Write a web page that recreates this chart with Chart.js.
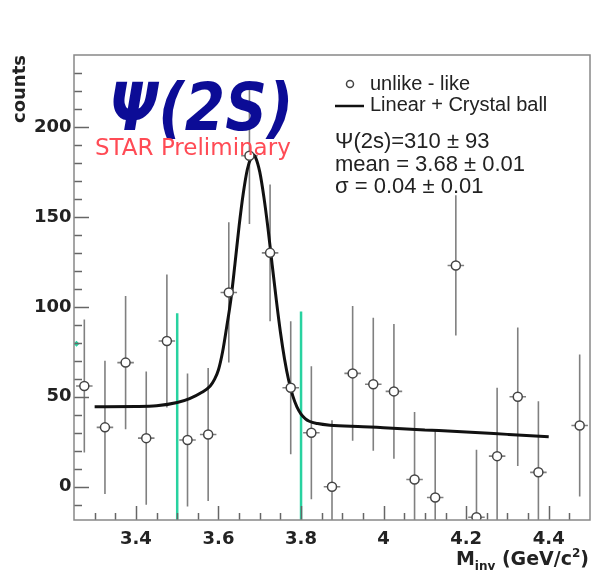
<!DOCTYPE html>
<html>
<head>
<meta charset="utf-8">
<script src="https://cdn.jsdelivr.net/npm/chart.js@4.4.0/dist/chart.umd.min.js"></script>
<style>
  body { margin: 0; background: #fff; }
  canvas { display: block; }
</style>
</head>
<body>
<canvas id="myDiagram" width="592" height="572"></canvas>
<script>
// bin centres and counts (unlike - like)
const binX = [3.275, 3.325, 3.375, 3.425, 3.475, 3.525, 3.575, 3.625, 3.675, 3.725, 3.775, 3.825,
              3.875, 3.925, 3.975, 4.025, 4.075, 4.125, 4.175, 4.225, 4.275, 4.325, 4.375, 4.475];
const counts = [56, 33, 69, 27, 81, 26, 29, 108, 184, 130, 55, 30,
                0, 63, 57, 53, 4, -6, 123, -17, 17, 50, 8, 34];
const errors = [37, 37, 37, 37, 37, 37, 37, 39, 38, 38, 37, 37,
                37, 37.5, 37, 37.5, 37.5, 37.5, 39, 37.5, 38, 38.5, 39.5, 39.5];
const binHalf = 0.02;

// Linear + Crystal ball fit, sampled from the drawn curve
const fitX = [3.30, 3.40, 3.45, 3.50, 3.53, 3.56, 3.58, 3.59, 3.60, 3.61, 3.62, 3.63, 3.64, 3.65,
              3.66, 3.67, 3.68, 3.684, 3.69, 3.70, 3.71, 3.72, 3.73, 3.74, 3.75, 3.76, 3.77, 3.78,
              3.79, 3.80, 3.81, 3.82, 3.84, 3.87, 3.95, 4.0, 4.1, 4.2, 4.3, 4.4];
const fitY = [44.5, 44.6, 45.0, 46.8, 49.0, 52.5, 56, 59.5, 65, 75, 89, 104, 124, 145,
              163, 176.5, 183.5, 184.6, 183, 175, 161, 143.5, 123.5, 104, 86, 71, 59.2, 50.5,
              44.4, 40.4, 37.9, 36.4, 35.1, 34.2, 33.4, 32.8, 31.6, 30.4, 29.1, 27.8];

// signal window lines
const windowX = [3.5, 3.8];
const windowTop = [96.5, 97.4];

// axis ticks
const xTickValues = [3.4, 3.6, 3.8, 4, 4.2, 4.4];
const yTickValues = [0, 50, 100, 150, 200];
const xRange = [3.25, 4.5];
const yRange = [-18.5, 240];

const green = 'rgb(40,210,160)';

const pts = binX.map((x, i) => ({ x: x, y: counts[i] }));
const fit = fitX.map((x, i) => ({ x: x, y: fitY[i] }));

const windowSets = windowX.map((x, i) => ({
  type: 'line',
  data: [{ x: x, y: windowTop[i] }, { x: x, y: yRange[0] }],
  borderColor: green,
  borderWidth: 2.5,
  pointRadius: 0,
  order: 3
}));

// error bars + inner ticks + frame
const rootAxes = {
  id: 'rootAxes',
  beforeDatasetsDraw(chart) {
    const { ctx, chartArea: a, scales: { x, y } } = chart;
    ctx.save();
    ctx.beginPath();
    ctx.rect(a.left, a.top, a.right - a.left, a.bottom - a.top);
    ctx.clip();
    ctx.strokeStyle = '#808080';
    ctx.lineWidth = 1.6;
    binX.forEach((bx, i) => {
      const px = x.getPixelForValue(bx);
      const py = y.getPixelForValue(counts[i]);
      ctx.beginPath();
      ctx.moveTo(px, y.getPixelForValue(counts[i] + errors[i]));
      ctx.lineTo(px, y.getPixelForValue(counts[i] - errors[i]));
      ctx.moveTo(x.getPixelForValue(bx - binHalf), py);
      ctx.lineTo(x.getPixelForValue(bx + binHalf), py);
      ctx.stroke();
    });
    ctx.restore();
  },
  afterDraw(chart) {
    const { ctx, chartArea: a, scales: { x, y } } = chart;
    ctx.save();
    ctx.strokeStyle = '#666';
    ctx.lineWidth = 1.5;
    // y ticks
    for (let v = -10; v <= 230; v += 10) {
      const py = Math.round(y.getPixelForValue(v)) + 0.5;
      const len = v % 50 === 0 ? 15 : 8;
      ctx.beginPath();
      ctx.moveTo(a.left, py);
      ctx.lineTo(a.left + len, py);
      ctx.stroke();
    }
    // x ticks
    for (let k = 1; k < 25; k++) {
      const v = 3.25 + k * 0.05;
      const px = Math.round(x.getPixelForValue(v)) + 0.5;
      const major = k % 4 === 3;
      ctx.beginPath();
      ctx.moveTo(px, a.bottom);
      ctx.lineTo(px, a.bottom - (major ? 14 : 7));
      ctx.stroke();
    }
    ctx.strokeStyle = '#888';
    ctx.strokeRect(a.left, a.top, a.right - a.left, a.bottom - a.top);

    // big labels
    ctx.save();
    ctx.translate(109, 130);
    ctx.scale(1, 1.12);
    ctx.fillStyle = 'rgb(12,12,150)';
    ctx.font = 'italic bold 58px "DejaVu Sans"';
    ctx.textBaseline = 'alphabetic';
    ctx.textAlign = 'left';
    ctx.fillText('Ψ(2S)', 0, 0);
    ctx.restore();
    ctx.fillStyle = 'rgb(255,75,85)';
    ctx.font = '23px "DejaVu Sans"';
    ctx.textBaseline = 'alphabetic';
    ctx.fillText('STAR Preliminary', 95, 155);

    // legend
    ctx.fillStyle = '#222';
    ctx.font = '20px "Liberation Sans"';
    ctx.textBaseline = 'middle';
    ctx.fillText('unlike - like', 370, 84);
    ctx.fillText('Linear + Crystal ball', 370, 105);
    ctx.strokeStyle = '#444';
    ctx.lineWidth = 1.5;
    ctx.beginPath();
    ctx.arc(350, 84, 3.5, 0, Math.PI * 2);
    ctx.stroke();
    ctx.strokeStyle = '#111';
    ctx.lineWidth = 2.5;
    ctx.beginPath();
    ctx.moveTo(335, 106);
    ctx.lineTo(364, 106);
    ctx.stroke();

    // fit results
    ctx.font = '22px "Liberation Sans"';
    ctx.fillText('Ψ(2s)=310 ± 93', 335, 142);
    ctx.fillText('mean = 3.68 ± 0.01', 335, 165);
    ctx.fillText('σ = 0.04 ± 0.01', 335, 187);

    // y title
    ctx.save();
    ctx.translate(20, 55);
    ctx.rotate(-Math.PI / 2);
    ctx.font = 'bold 18px "DejaVu Sans"';
    ctx.textAlign = 'right';
    ctx.fillStyle = '#222';
    ctx.fillText('counts', 0, 0);
    ctx.restore();

    // x title with sub/superscript
    const big = 'bold 19px "DejaVu Sans"', small = 'bold 12px "DejaVu Sans"';
    const parts = [['M', big, 0], ['inv', small, 5], [' (GeV/c', big, 0], ['2', small, -8], [')', big, 0]];
    let total = 0;
    parts.forEach(p => { ctx.font = p[1]; total += ctx.measureText(p[0]).width; });
    let cx = 589 - total;
    ctx.textBaseline = 'alphabetic';
    ctx.textAlign = 'left';
    ctx.fillStyle = '#222';
    parts.forEach(p => {
      ctx.font = p[1];
      ctx.fillText(p[0], cx, 565 + p[2]);
      cx += ctx.measureText(p[0]).width;
    });
    ctx.restore();
  }
};

const ctx = document.getElementById('myDiagram').getContext('2d');
const myChart = new Chart(ctx, {
  data: {
    datasets: [
      {
        type: 'scatter',
        data: pts,
        pointStyle: 'circle',
        pointRadius: 4.5,
        pointBackgroundColor: '#fff',
        pointBorderColor: '#444',
        pointBorderWidth: 1.5,
        order: 1
      },
      {
        type: 'line',
        data: fit,
        borderColor: '#111',
        borderWidth: 3,
        pointRadius: 0,
        cubicInterpolationMode: 'monotone',
        order: 2
      },
      ...windowSets,
      {
        type: 'scatter',
        data: [{ x: 3.256, y: 79.5 }],
        pointStyle: 'rectRot',
        pointRadius: 3,
        pointBackgroundColor: green,
        pointBorderWidth: 0,
        order: 4
      }
    ]
  },
  options: {
    responsive: false,
    animation: false,
    devicePixelRatio: 1,
    layout: { autoPadding: false, padding: { left: 0, top: 55, right: 2, bottom: 0 } },
    plugins: {
      legend: { display: false },
      tooltip: { enabled: false }
    },
    scales: {
      x: {
        type: 'linear',
        min: xRange[0],
        max: xRange[1],
        grid: { display: false, drawTicks: false },
        border: { display: false },
        afterBuildTicks: s => { s.ticks = xTickValues.map(v => ({ value: v })); },
        afterFit: s => { s.height = 52; s.paddingLeft = 0; s.paddingRight = 0; },
        ticks: {
          padding: 9,
          maxRotation: 0,
          color: '#222',
          font: { family: 'DejaVu Sans', size: 18, weight: 'bold' },
          callback: v => String(v)
        }
      },
      y: {
        type: 'linear',
        min: yRange[0],
        max: yRange[1],
        grid: { display: false, drawTicks: false },
        border: { display: false },
        afterBuildTicks: s => { s.ticks = yTickValues.map(v => ({ value: v })); },
        afterFit: s => { s.width = 74; s.paddingTop = 0; s.paddingBottom = 0; },
        ticks: {
          padding: 2.5,
          color: '#222',
          font: { family: 'DejaVu Sans', size: 18, weight: 'bold' }
        }
      }
    }
  },
  plugins: [rootAxes]
});
</script>
</body>
</html>
